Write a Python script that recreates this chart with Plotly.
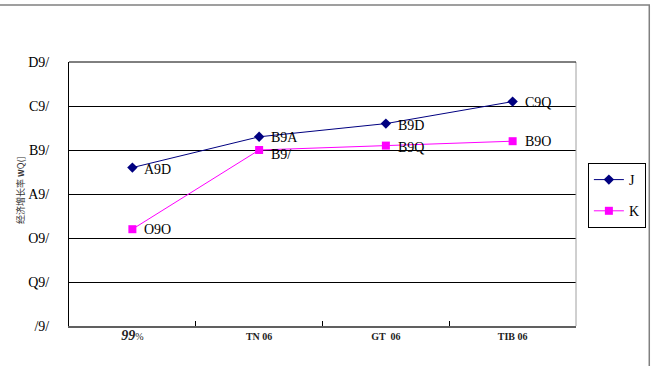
import plotly.graph_objects as go

categories = ["<b><i><span style='font-size:14px'>99</span></i></b>%", "<b>TN 06</b>", "<b>GT  06</b>", "<b>TIB 06</b>"]
series_j = [3.6, 4.3, 4.6, 5.1]
series_k = [2.2, 4.0, 4.1, 4.2]
labels_j = ["A9D", "B9A", "B9D", "C9Q"]
labels_k = ["O9O", "B9/", "B9Q", "B9O"]
y_tickvals = [0, 1, 2, 3, 4, 5, 6]
y_ticktext = ["/9/", "Q9/", "O9/", "A9/", "B9/", "C9/", "D9/"]
series_names = ["J", "K"]

W, H = 658, 366
L, R, T, B = 69, 77, 62, 40
pw, ph = W - L - R, H - T - B

def px_x(x):
    return (x - L) / pw

def px_y(y):
    return (H - B - y) / ph

serif = "Liberation Serif"

fig = go.Figure()
fig.add_trace(go.Scatter(
    x=categories, y=series_j, name=series_names[0], mode="lines+markers",
    legendgroup="j",
    line=dict(color="#000080", width=1),
    marker=dict(symbol="diamond", size=8, color="#000080"),
))
fig.add_trace(go.Scatter(
    x=categories, y=series_k, name=series_names[1], mode="lines+markers",
    legendgroup="k",
    line=dict(color="#FF00FF", width=1),
    marker=dict(symbol="square", size=8, color="#FF00FF"),
))

# data labels, placed to the right of each point
for xs, ys, labs, shifts in [
    (categories, series_j, labels_j, [-2, -1, -2, -1]),
    (categories, series_k, labels_k, [0, -4, -2, 0]),
]:
    for xv, yv, lab, sh in zip(xs, ys, labs, shifts):
        fig.add_annotation(x=xv, y=yv, xref="x", yref="y", text=lab,
                           showarrow=False, xanchor="left", yanchor="middle",
                           xshift=10, yshift=sh,
                           font=dict(family=serif, size=14, color="black"))

# outer chart frame
fig.add_shape(type="rect", xref="paper", yref="paper",
              x0=px_x(-5), x1=px_x(655), y0=px_y(380), y1=px_y(5),
              line=dict(color="#808080", width=1.5), layer="below")
# right plot border
fig.add_shape(type="line", xref="paper", yref="paper",
              x0=1, x1=1, y0=0, y1=1, line=dict(color="#a0a0a0", width=1))
# top plot border (gridline at top value)
fig.add_shape(type="line", xref="paper", yref="paper",
              x0=0, x1=1, y0=1, y1=1, line=dict(color="black", width=1))

fig.add_annotation(
    text="经济增长率 <b>w</b>Q(]", xref="paper", yref="paper",
    x=px_x(11), y=px_y(190), textangle=-90, showarrow=False,
    font=dict(family="Noto Sans CJK SC", size=9, color="#333"),
)

fig.update_layout(
    width=W, height=H,
    margin=dict(l=L, r=R, t=T, b=B),
    paper_bgcolor="white", plot_bgcolor="white",
    showlegend=True,
    legend=dict(x=px_x(593), y=px_y(163), xanchor="left", yanchor="top",
                bordercolor="black", borderwidth=1, bgcolor="white",
                font=dict(family=serif, size=14, color="black"),
                itemwidth=30, tracegroupgap=10),
    xaxis=dict(
        type="category", tickson="boundaries", ticks="inside", ticklen=5,
        tickcolor="black", showgrid=False, showline=True, linecolor="#606060",
        linewidth=1.5, tickfont=dict(family=serif, size=10, color="#222"),
        range=[-0.5, 3.5],
    ),
    yaxis=dict(
        range=[0, 6], tickvals=y_tickvals, ticktext=y_ticktext,
        showgrid=True, gridcolor="black", gridwidth=1,
        showline=True, linecolor="black", linewidth=1,
        ticks="", tickfont=dict(family=serif, size=14, color="black"),
        zeroline=False, ticklabelstandoff=16,
    ),
    font=dict(family=serif),
)

fig.write_html("out.html")
